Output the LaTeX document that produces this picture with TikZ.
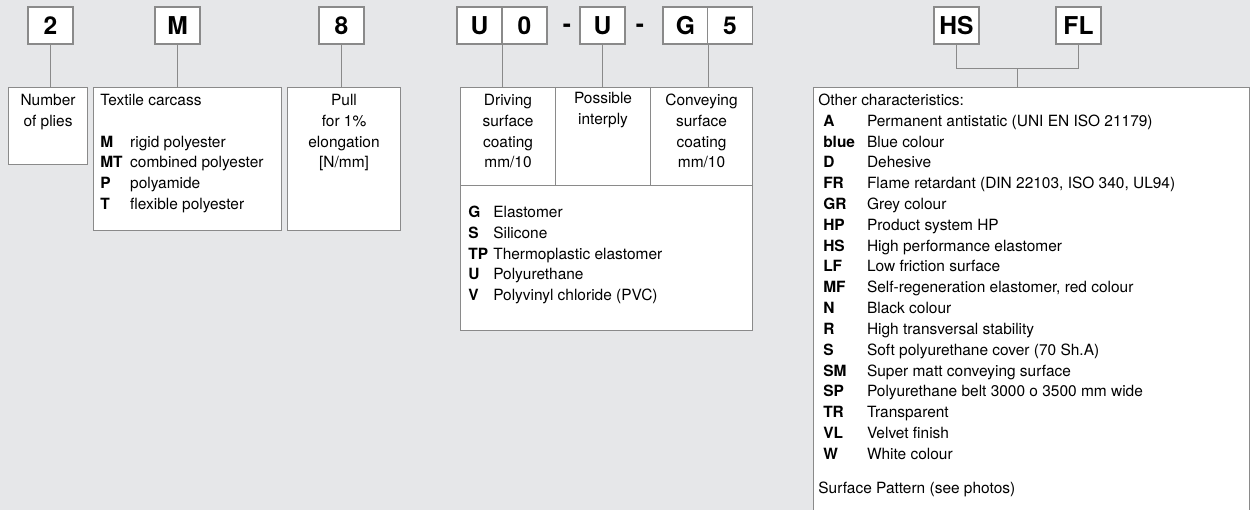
\documentclass[tikz,border=0pt]{standalone}
\usepackage{fontspec}
\setmainfont{TeX Gyre Heros}
\usepackage{array}
\usepackage{tikz}
\usetikzlibrary{calc,positioning}
\definecolor{bggrey}{RGB}{230,231,233}
\definecolor{edgegrey}{RGB}{138,138,138}
\tikzset{
  codebox/.style={draw=edgegrey, fill=white, line width=0.6pt, minimum width=0.9cm, minimum height=0.74cm, inner sep=0pt, font=\fontsize{14}{14}\selectfont\bfseries},
  dashsign/.style={inner sep=0pt, font=\fontsize{14}{14}\selectfont\bfseries},
  panel/.style={draw=edgegrey, fill=white, line width=0.6pt, anchor=north west, inner sep=0pt},
  paneltext/.style={anchor=north, inner sep=0pt, font=\fontsize{8.8}{11.85}\selectfont},
  listtext/.style={anchor=north west, inner sep=0pt, font=\fontsize{8.8}{11.85}\selectfont},
  link/.style={draw=edgegrey, line width=0.6pt}
}

\begin{document}
\begin{tikzpicture}[x=0.02cm, y=-0.02cm]
\fill[bggrey] (0,0) rectangle (1250,510);
\useasboundingbox (0,0) rectangle (1250,510);

% code letters
\node[codebox] (c2) at (50.5,25.5) {2};
\node[codebox] (cM) at (177.5,25.5) {M};
\node[codebox] (c8) at (341.5,25.5) {8};
\node[codebox] (cU) at (479.5,25.5) {U};
\node[codebox] (c0) at (524.5,25.5) {0};
\node[dashsign] (dash1) at (567,28) {-};
\node[codebox] (cU2) at (602.5,25.5) {U};
\node[dashsign] (dash2) at (640,28) {-};
\node[codebox] (cG) at (685.5,25.5) {G};
\node[codebox] (c5) at (730,25.5) {5};
\node[codebox] (cHS) at (956.5,25.5) {HS};
\node[codebox] (cFL) at (1078.5,25.5) {FL};

% panels
\node[panel, minimum width=1.58cm, minimum height=1.54cm] (plies) at (8,87) {};
\node[panel, minimum width=3.76cm, minimum height=2.86cm] (carcass) at (93,87) {};
\node[panel, minimum width=2.26cm, minimum height=2.86cm] (pull) at (287,87) {};
\node[panel, minimum width=1.9cm, minimum height=1.96cm] (drive) at (460,87) {};
\node[panel, minimum width=1.9cm, minimum height=1.96cm] (inter) at (555,87) {};
\node[panel, minimum width=2.04cm, minimum height=1.96cm] (convey) at (650,87) {};
\node[panel, minimum width=5.84cm, minimum height=2.9cm] (material) at (460,185) {};
\node[panel, minimum width=8.72cm, minimum height=8.5cm] (other) at (813,87) {};

% panel texts
\node[paneltext] (pliestext) at ($(plies.north)+(0,3.5)$)
  {\begin{tabular}{@{}c@{}}Number\\of plies\end{tabular}};
\node[listtext] (carcasstext) at ($(carcass.north west)+(7,3.5)$)
  {\begin{tabular}{@{}>{\bfseries}p{17pt}@{}l@{}}
   \multicolumn{2}{@{}l@{}}{Textile carcass}\\
   & \\
   M & rigid polyester\\
   MT & combined polyester\\
   P & polyamide\\
   T & flexible polyester
   \end{tabular}};
\node[paneltext] (pulltext) at ($(pull.north)+(0,3.5)$)
  {\begin{tabular}{@{}c@{}}Pull\\for 1\%\\elongation\\{[N/mm]}\end{tabular}};
\node[paneltext] (drivetext) at ($(drive.north)+(0,3.5)$)
  {\begin{tabular}{@{}c@{}}Driving\\surface\\coating\\mm/10\end{tabular}};
\node[paneltext] (intertext) at ($(inter.north)+(0,1.5)$)
  {\begin{tabular}{@{}c@{}}Possible\\interply\end{tabular}};
\node[paneltext] (conveytext) at ($(convey.north)+(0,3.5)$)
  {\begin{tabular}{@{}c@{}}Conveying\\surface\\coating\\mm/10\end{tabular}};
\node[listtext] (materialtext) at ($(material.north west)+(8,17.5)$)
  {\begin{tabular}{@{}>{\bfseries}p{14.2pt}@{}l@{}}
   G & Elastomer\\
   S & Silicone\\
   TP & Thermoplastic elastomer\\
   U & Polyurethane\\
   V & Polyvinyl chloride (PVC)
   \end{tabular}};
\node[listtext] (othertext) at ($(other.north west)+(5,3.5)$)
  {\begin{tabular}{@{\hspace{2.8pt}}>{\bfseries}p{24.9pt}@{}l@{}}
   \multicolumn{2}{@{}l@{}}{Other characteristics:}\\
   A & Permanent antistatic (UNI EN ISO 21179)\\
   blue & Blue colour\\
   D & Dehesive\\
   FR & Flame retardant (DIN 22103, ISO 340, UL94)\\
   GR & Grey colour\\
   HP & Product system HP\\
   HS & High performance elastomer\\
   LF & Low friction surface\\
   MF & Self-regeneration elastomer, red colour\\
   N & Black colour\\
   R & High transversal stability\\
   S & Soft polyurethane cover (70 Sh.A)\\
   SM & Super matt conveying surface\\
   SP & Polyurethane belt 3000 o 3500 mm wide\\
   TR & Transparent\\
   VL & Velvet finish\\
   W & White colour\\[7.4pt]
   \multicolumn{2}{@{}l@{}}{Surface Pattern (see photos)}
   \end{tabular}};

% connectors
\draw[link] (c2.south) -- (c2.south |- plies.north);
\draw[link] (cM.south) -- (cM.south |- carcass.north);
\draw[link] (c8.south) -- (c8.south |- pull.north);
\draw[link] (cU.south east) -- (cU.south east |- drive.north);
\draw[link] (cU2.south) -- (cU2.south |- inter.north);
\draw[link] (cG.south east) -- (cG.south east |- convey.north);
\coordinate (join) at ($(cHS.south)!.5!(cFL.south)+(0,24)$);
\draw[link] (cHS.south) |- (join) -| (cFL.south);
\draw[link] (join) -- (join |- other.north);
\end{tikzpicture}
\end{document}
